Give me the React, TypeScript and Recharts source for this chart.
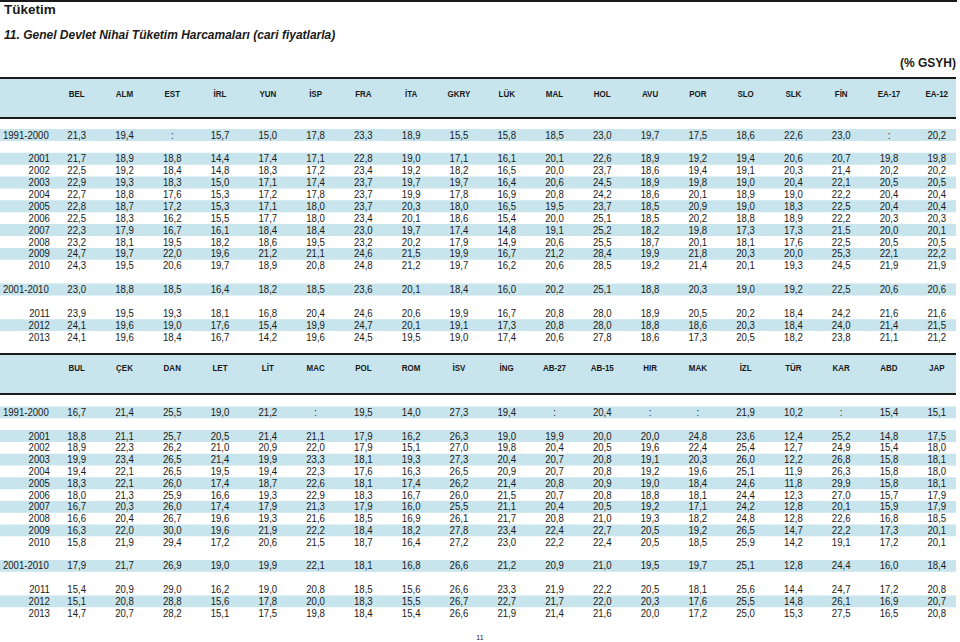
import { ScatterChart, Scatter, XAxis, YAxis, ReferenceArea } from "recharts";

// column headers of the two halves of the table
const colsTop = ["BEL", "ALM", "EST", "İRL", "YUN", "İSP", "FRA", "İTA", "GKRY", "LÜK", "MAL", "HOL", "AVU", "POR", "SLO", "SLK", "FİN", "EA-17", "EA-12"];
const colsBottom = ["BUL", "ÇEK", "DAN", "LET", "LİT", "MAC", "POL", "ROM", "İSV", "İNG", "AB-27", "AB-15", "HIR", "MAK", "İZL", "TÜR", "KAR", "ABD", "JAP"];

const rowLabels = ["1991-2000", "2001", "2002", "2003", "2004", "2005", "2006", "2007", "2008", "2009", "2010", "2001-2010", "2011", "2012", "2013"];
const shadedRows = ["1991-2000", "2001", "2003", "2005", "2007", "2009", "2001-2010", "2012"];

// null = ":" (no data)
const topValues: (number | null)[][] = [
  [21.3, 19.4, null, 15.7, 15.0, 17.8, 23.3, 18.9, 15.5, 15.8, 18.5, 23.0, 19.7, 17.5, 18.6, 22.6, 23.0, null, 20.2], // 1991-2000
  [21.7, 18.9, 18.8, 14.4, 17.4, 17.1, 22.8, 19.0, 17.1, 16.1, 20.1, 22.6, 18.9, 19.2, 19.4, 20.6, 20.7, 19.8, 19.8], // 2001
  [22.5, 19.2, 18.4, 14.8, 18.3, 17.2, 23.4, 19.2, 18.2, 16.5, 20.0, 23.7, 18.6, 19.4, 19.1, 20.3, 21.4, 20.2, 20.2],
  [22.9, 19.3, 18.3, 15.0, 17.1, 17.4, 23.7, 19.7, 19.7, 16.4, 20.6, 24.5, 18.9, 19.8, 19.0, 20.4, 22.1, 20.5, 20.5],
  [22.7, 18.8, 17.6, 15.3, 17.2, 17.8, 23.7, 19.9, 17.8, 16.9, 20.8, 24.2, 18.6, 20.1, 18.9, 19.0, 22.2, 20.4, 20.4],
  [22.8, 18.7, 17.2, 15.3, 17.1, 18.0, 23.7, 20.3, 18.0, 16.5, 19.5, 23.7, 18.5, 20.9, 19.0, 18.3, 22.5, 20.4, 20.4],
  [22.5, 18.3, 16.2, 15.5, 17.7, 18.0, 23.4, 20.1, 18.6, 15.4, 20.0, 25.1, 18.5, 20.2, 18.8, 18.9, 22.2, 20.3, 20.3],
  [22.3, 17.9, 16.7, 16.1, 18.4, 18.4, 23.0, 19.7, 17.4, 14.8, 19.1, 25.2, 18.2, 19.8, 17.3, 17.3, 21.5, 20.0, 20.1],
  [23.2, 18.1, 19.5, 18.2, 18.6, 19.5, 23.2, 20.2, 17.9, 14.9, 20.6, 25.5, 18.7, 20.1, 18.1, 17.6, 22.5, 20.5, 20.5],
  [24.7, 19.7, 22.0, 19.6, 21.2, 21.1, 24.6, 21.5, 19.9, 16.7, 21.2, 28.4, 19.9, 21.8, 20.3, 20.0, 25.3, 22.1, 22.2],
  [24.3, 19.5, 20.6, 19.7, 18.9, 20.8, 24.8, 21.2, 19.7, 16.2, 20.6, 28.5, 19.2, 21.4, 20.1, 19.3, 24.5, 21.9, 21.9], // 2010
  [23.0, 18.8, 18.5, 16.4, 18.2, 18.5, 23.6, 20.1, 18.4, 16.0, 20.2, 25.1, 18.8, 20.3, 19.0, 19.2, 22.5, 20.6, 20.6], // 2001-2010
  [23.9, 19.5, 19.3, 18.1, 16.8, 20.4, 24.6, 20.6, 19.9, 16.7, 20.8, 28.0, 18.9, 20.5, 20.2, 18.4, 24.2, 21.6, 21.6],
  [24.1, 19.6, 19.0, 17.6, 15.4, 19.9, 24.7, 20.1, 19.1, 17.3, 20.8, 28.0, 18.8, 18.6, 20.3, 18.4, 24.0, 21.4, 21.5],
  [24.1, 19.6, 18.4, 16.7, 14.2, 19.6, 24.5, 19.5, 19.0, 17.4, 20.6, 27.8, 18.6, 17.3, 20.5, 18.2, 23.8, 21.1, 21.2], // 2013
];

const bottomValues: (number | null)[][] = [
  [16.7, 21.4, 25.5, 19.0, 21.2, null, 19.5, 14.0, 27.3, 19.4, null, 20.4, null, null, 21.9, 10.2, null, 15.4, 15.1], // 1991-2000
  [18.8, 21.1, 25.7, 20.5, 21.4, 21.1, 17.9, 16.2, 26.3, 19.0, 19.9, 20.0, 20.0, 24.8, 23.6, 12.4, 25.2, 14.8, 17.5], // 2001
  [18.9, 22.3, 26.2, 21.0, 20.9, 22.0, 17.9, 15.1, 27.0, 19.8, 20.4, 20.5, 19.6, 22.4, 25.4, 12.7, 24.9, 15.4, 18.0],
  [19.9, 23.4, 26.5, 21.4, 19.9, 23.3, 18.1, 19.3, 27.3, 20.4, 20.7, 20.8, 19.1, 20.3, 26.0, 12.2, 26.8, 15.8, 18.1],
  [19.4, 22.1, 26.5, 19.5, 19.4, 22.3, 17.6, 16.3, 26.5, 20.9, 20.7, 20.8, 19.2, 19.6, 25.1, 11.9, 26.3, 15.8, 18.0],
  [18.3, 22.1, 26.0, 17.4, 18.7, 22.6, 18.1, 17.4, 26.2, 21.4, 20.8, 20.9, 19.0, 18.4, 24.6, 11.8, 29.9, 15.8, 18.1],
  [18.0, 21.3, 25.9, 16.6, 19.3, 22.9, 18.3, 16.7, 26.0, 21.5, 20.7, 20.8, 18.8, 18.1, 24.4, 12.3, 27.0, 15.7, 17.9],
  [16.7, 20.3, 26.0, 17.4, 17.9, 21.3, 17.9, 16.0, 25.5, 21.1, 20.4, 20.5, 19.2, 17.1, 24.2, 12.8, 20.1, 15.9, 17.9],
  [16.6, 20.4, 26.7, 19.6, 19.3, 21.6, 18.5, 16.9, 26.1, 21.7, 20.8, 21.0, 19.3, 18.2, 24.8, 12.8, 22.6, 16.8, 18.5],
  [16.3, 22.0, 30.0, 19.6, 21.9, 22.2, 18.4, 18.2, 27.8, 23.4, 22.4, 22.7, 20.5, 19.2, 26.5, 14.7, 22.2, 17.3, 20.1],
  [15.8, 21.9, 29.4, 17.2, 20.6, 21.5, 18.7, 16.4, 27.2, 23.0, 22.2, 22.4, 20.5, 18.5, 25.9, 14.2, 19.1, 17.2, 20.1], // 2010
  [17.9, 21.7, 26.9, 19.0, 19.9, 22.1, 18.1, 16.8, 26.6, 21.2, 20.9, 21.0, 19.5, 19.7, 25.1, 12.8, 24.4, 16.0, 18.4], // 2001-2010
  [15.4, 20.9, 29.0, 16.2, 19.0, 20.8, 18.5, 15.6, 26.6, 23.3, 21.9, 22.2, 20.5, 18.1, 25.6, 14.4, 24.7, 17.2, 20.8],
  [15.1, 20.8, 28.8, 15.6, 17.8, 20.0, 18.3, 15.5, 26.7, 22.7, 21.7, 22.0, 20.3, 17.6, 25.5, 14.8, 26.1, 16.9, 20.7],
  [14.7, 20.7, 28.2, 15.1, 17.5, 19.8, 18.4, 15.4, 26.6, 21.9, 21.4, 21.6, 20.0, 17.2, 25.0, 15.3, 27.5, 16.5, 20.8], // 2013
];

const FONT = '"Liberation Sans", Arial, Helvetica, sans-serif';
const BLUE = "#c8e4ec";
const INK = "#1a1a1a";

// empty rows between the blocks
const slots: string[] = [];
rowLabels.forEach((r) => {
  slots.push(r);
  if (r === "1991-2000" || r === "2010" || r === "2001-2010") slots.push("gap-" + r);
});

const fmt = (v: number | null) => (v == null ? ":" : v.toFixed(1).replace(".", ","));

function buildCells(values: (number | null)[][]) {
  const out: any[] = [];
  slots.forEach((slot) => {
    const r = rowLabels.indexOf(slot);
    if (r < 0) {
      out.push({ col: 0, row: slot, text: "", kind: "gap" });
      return;
    }
    out.push({ col: 0, row: slot, text: slot, kind: slot.includes("-") ? "range" : "year" });
    values[r].forEach((v, i) => out.push({ col: i + 1, row: slot, text: fmt(v), kind: "val" }));
  });
  return out;
}

function CellText(p: any) {
  const d = p.payload;
  if (!d || !d.text) return <g />;
  const y = p.cy + 3.6;
  let x = p.cx;
  let anchor: "start" | "middle" | "end" = "middle";
  if (d.kind === "range") {
    x = p.cx - 26;
    anchor = "start";
  } else if (d.kind === "year") {
    x = p.cx + 21;
    anchor = "end";
  }
  // the source glyphs are a little taller than they are wide
  return (
    <text transform={`translate(${x},${y}) scale(1,1.1)`} textAnchor={anchor} fontSize={9.6} fontFamily={FONT} fill={INK}>
      {d.text}
    </text>
  );
}

interface TableProps {
  cols: string[];
  values: (number | null)[][];
  top: number;
  axisHeight: number;
  height: number;
  headerY: number;
}

function TableBlock({ cols, values, top, axisHeight, height, headerY }: TableProps) {
  const cells = buildCells(values);
  return (
    <>
      <div
        style={{
          position: "absolute",
          left: 0,
          top: top - 1,
          width: 956,
          height: 38,
          background: BLUE,
          borderTop: `2px solid ${INK}`,
          borderBottom: `2px solid ${INK}`,
        }}
      />
      <div style={{ position: "absolute", left: 0, top }}>
        <ScatterChart width={960} height={height} margin={{ top: 0, right: 4, bottom: 0, left: 0 }}>
          <XAxis
            type="number"
            dataKey="col"
            orientation="top"
            domain={[-0.605, 19.403]}
            allowDataOverflow
            height={axisHeight}
            ticks={cols.map((_, i) => i + 1)}
            interval={0}
            axisLine={false}
            tickLine={false}
            tick={(t: any) => (
              <text
                transform={`translate(${t.x},${headerY}) scale(1,1.12)`}
                textAnchor="middle"
                fontSize={8}
                fontWeight="bold"
                fontFamily={FONT}
                fill={INK}
              >
                {cols[t.payload.value - 1]}
              </text>
            )}
          />
          <YAxis type="category" dataKey="row" hide reversed allowDuplicatedCategory={false} />
          {shadedRows.map((r) => (
            <ReferenceArea key={r} y1={r} y2={r} fill={BLUE} fillOpacity={1} stroke="none" ifOverflow="visible" />
          ))}
          <Scatter data={cells} shape={<CellText />} isAnimationActive={false} />
        </ScatterChart>
      </div>
    </>
  );
}

export default function App() {
  return (
    <div
      style={{
        position: "absolute",
        left: 0,
        top: 0,
        width: 960,
        height: 642,
        background: "#fff",
        fontFamily: FONT,
        color: INK,
        overflow: "hidden",
      }}
    >
      <div style={{ position: "absolute", left: 0, top: 0, width: 957, height: 2, background: INK }} />
      <div style={{ position: "absolute", left: 4, top: 2, fontSize: 13.5, fontWeight: "bold", lineHeight: "16px" }}>Tüketim</div>
      <div style={{ position: "absolute", left: 4, top: 28, fontSize: 12, fontWeight: "bold", fontStyle: "italic", lineHeight: "14px" }}>
        11. Genel Devlet Nihai Tüketim Harcamaları (cari fiyatlarla)
      </div>
      <div style={{ position: "absolute", right: 4, top: 56, fontSize: 12, fontWeight: "bold", lineHeight: "14px" }}>(% GSYH)</div>

      <TableBlock cols={colsTop} values={topValues} top={78} axisHeight={51} height={265} headerY={19} />
      <TableBlock cols={colsBottom} values={bottomValues} top={354} axisHeight={52.5} height={265} headerY={17} />

      <div style={{ position: "absolute", left: 0, width: 960, top: 633, textAlign: "center", fontSize: 7, lineHeight: "9px" }}>11</div>
    </div>
  );
}
